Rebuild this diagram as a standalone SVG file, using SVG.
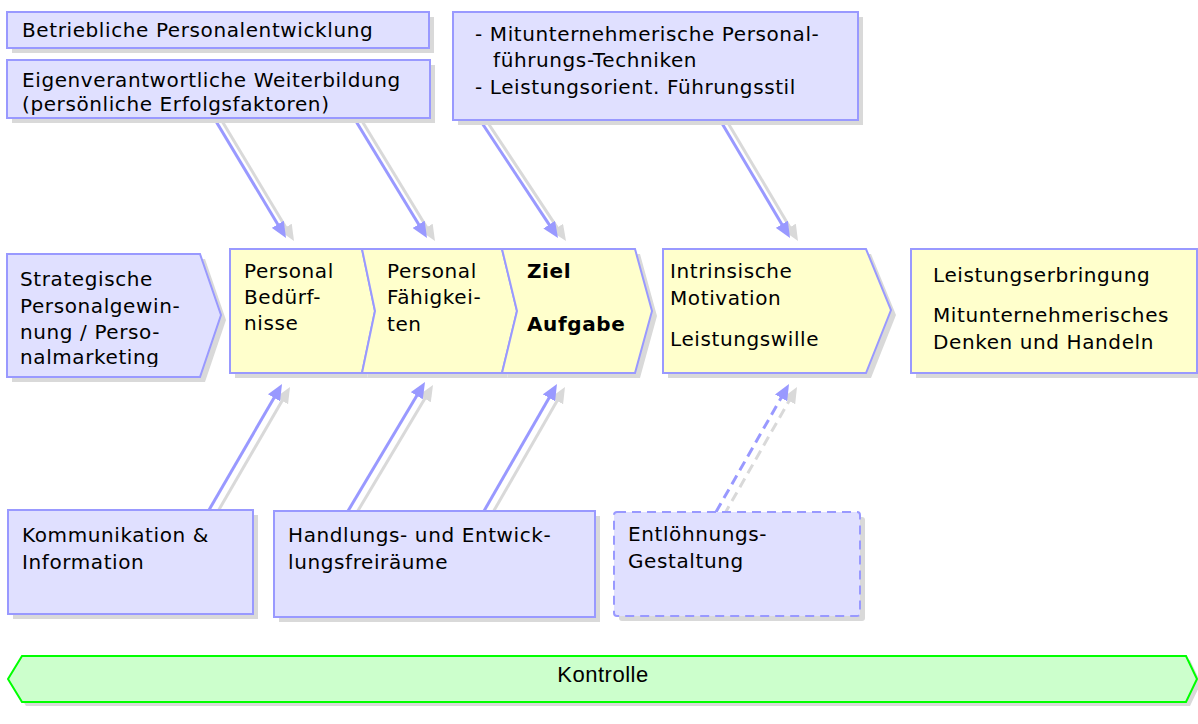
<svg xmlns="http://www.w3.org/2000/svg" width="1198" height="724" viewBox="0 0 1198 724">
<style>
.box{fill:#e0e0ff;stroke:#9999ff;stroke-width:2}
.yel{fill:#ffffcc;stroke:#9999ff;stroke-width:2}
.sh{fill:#d9d9d9;stroke:none}
.t{font-family:"DejaVu Sans",Verdana,sans-serif;font-size:20px;letter-spacing:0.6px;fill:#000}
.b{font-weight:bold}
.con{stroke:#9999ff;stroke-width:3;fill:none}
.csh{stroke:#d9d9d9;stroke-width:3;fill:none}
.dash{stroke-dasharray:10,6}
</style>
<defs>
<marker id="ah" markerUnits="userSpaceOnUse" markerWidth="18" markerHeight="14" refX="6" refY="7" orient="auto"><path d="M0,0 L16,7 L0,14 z" fill="#9999ff"/></marker>
<marker id="ahs" markerUnits="userSpaceOnUse" markerWidth="18" markerHeight="14" refX="6" refY="7" orient="auto"><path d="M0,0 L16,7 L0,14 z" fill="#d9d9d9"/></marker>
<clipPath id="clipS"><rect x="0" y="240" width="240" height="127"/></clipPath>
</defs>

<g id="connectors">
<g transform="translate(8,3)">
<line class="csh" x1="214" y1="118" x2="280.85" y2="229.42" marker-end="url(#ahs)"/>
<line class="csh" x1="354" y1="118" x2="421.8" y2="229.46" marker-end="url(#ahs)"/>
<line class="csh" x1="480" y1="120" x2="552.5" y2="229.66" marker-end="url(#ahs)"/>
<line class="csh" x1="720" y1="120" x2="784.9" y2="229.4" marker-end="url(#ahs)"/>
<line class="csh" x1="209" y1="510" x2="277" y2="392.65" marker-end="url(#ahs)"/>
<line class="csh" x1="348" y1="511" x2="419.87" y2="390.59" marker-end="url(#ahs)"/>
<line class="csh" x1="484" y1="511" x2="552" y2="392.67" marker-end="url(#ahs)"/>
<line class="csh dash" x1="716" y1="512" x2="784.05" y2="392.69" marker-end="url(#ahs)"/>
</g>
<line class="con" x1="214" y1="118" x2="280.85" y2="229.42" marker-end="url(#ah)"/>
<line class="con" x1="354" y1="118" x2="421.8" y2="229.46" marker-end="url(#ah)"/>
<line class="con" x1="480" y1="120" x2="552.5" y2="229.66" marker-end="url(#ah)"/>
<line class="con" x1="720" y1="120" x2="784.9" y2="229.4" marker-end="url(#ah)"/>
<line class="con" x1="209" y1="510" x2="277" y2="392.65" marker-end="url(#ah)"/>
<line class="con" x1="348" y1="511" x2="419.87" y2="390.59" marker-end="url(#ah)"/>
<line class="con" x1="484" y1="511" x2="552" y2="392.67" marker-end="url(#ah)"/>
<line class="con dash" x1="716" y1="512" x2="784.05" y2="392.69" marker-end="url(#ah)"/>
</g>

<g id="n-betrieblich">
<rect class="sh" x="12" y="17" width="422" height="36"/>
<rect class="box" x="7" y="12" width="422" height="36"/>
<text class="t" x="22" y="37">Betriebliche Personalentwicklung</text>
</g>

<g id="n-eigenverantwortlich">
<rect class="sh" x="12" y="65" width="423" height="58"/>
<rect class="box" x="7" y="60" width="423" height="58"/>
<text class="t" x="22" y="87">Eigenverantwortliche Weiterbildung</text>
<text class="t" x="22" y="111">(persönliche Erfolgsfaktoren)</text>
</g>

<g id="n-fuehrung">
<rect class="sh" x="458" y="17" width="405" height="108"/>
<rect class="box" x="453" y="12" width="405" height="108"/>
<text class="t" x="475" y="41">- Mitunternehmerische Personal-</text>
<text class="t" x="493" y="67">führungs-Techniken</text>
<text class="t" x="475" y="94">- Leistungsorient. Führungsstil</text>
</g>

<g id="n-strategisch">
<polygon class="sh" points="12,259 205,259 226,320 205,382 12,382"/>
<polygon class="box" points="7,254 200,254 221,315 200,377 7,377"/>
<g clip-path="url(#clipS)">
<text class="t" x="20" y="286">Strategische</text>
<text class="t" x="20" y="313">Personalgewin-</text>
<text class="t" x="20" y="339">nung / Perso-</text>
<text class="t" x="20" y="364">nalmarketing</text>
</g>
</g>

<g id="n-shadows-chain">
<polygon class="sh" points="235,254 367,254 380,316 367,378 235,378"/>
<polygon class="sh" points="367,254 507,254 522,316 507,378 367,378 380,316"/>
<polygon class="sh" points="507,254 640,254 657,316 640,378 507,378 522,316"/>
</g>

<g id="n-beduerfnisse">
<polygon class="yel" points="230,249 362,249 375,311 362,373 230,373"/>
<text class="t" x="244" y="278">Personal</text>
<text class="t" x="244" y="304">Bedürf-</text>
<text class="t" x="244" y="330">nisse</text>
</g>

<g id="n-faehigkeiten">
<polygon class="yel" points="362,249 502,249 517,311 502,373 362,373 375,311"/>
<text class="t" x="387" y="278">Personal</text>
<text class="t" x="387" y="304">Fähigkei-</text>
<text class="t" x="387" y="331">ten</text>
</g>

<g id="n-ziel">
<polygon class="yel" points="502,249 635,249 652,311 635,373 502,373 517,311"/>
<text class="t b" x="527" y="278">Ziel</text>
<text class="t b" x="527" y="331">Aufgabe</text>
</g>

<g id="n-motivation">
<polygon class="sh" points="668,254 871,254 896,315 871,378 668,378"/>
<polygon class="yel" points="663,249 866,249 891,310 866,373 663,373"/>
<text class="t" x="670" y="278">Intrinsische</text>
<text class="t" x="670" y="305">Motivation</text>
<text class="t" x="670" y="346">Leistungswille</text>
</g>

<g id="n-leistung">
<rect class="sh" x="916" y="254" width="286" height="124"/>
<rect class="yel" x="911" y="249" width="286" height="124"/>
<text class="t" x="933" y="282">Leistungserbringung</text>
<text class="t" x="933" y="322">Mitunternehmerisches</text>
<text class="t" x="933" y="349">Denken und Handeln</text>
</g>

<g id="n-kommunikation">
<rect class="sh" x="13" y="515" width="245" height="104"/>
<rect class="box" x="8" y="510" width="245" height="104"/>
<text class="t" x="22" y="542">Kommunikation &amp;</text>
<text class="t" x="22" y="569">Information</text>
</g>

<g id="n-handlung">
<rect class="sh" x="279" y="516" width="321" height="106"/>
<rect class="box" x="274" y="511" width="321" height="106"/>
<text class="t" x="288" y="542">Handlungs- und Entwick-</text>
<text class="t" x="288" y="569">lungsfreiräume</text>
</g>

<g id="n-entloehnung">
<rect class="sh" x="619" y="517" width="246" height="104" rx="3"/>
<rect class="box dash" x="614" y="512" width="246" height="104" rx="3" style="stroke-dasharray:9,6"/>
<text class="t" x="628" y="541">Entlöhnungs-</text>
<text class="t" x="628" y="568">Gestaltung</text>
</g>

<g id="n-kontrolle">
<polygon class="sh" points="26,660 1190,660 1201,683 1190,706 26,706 12,683"/>
<polygon points="22,656 1186,656 1197,679 1186,702 22,702 8,679" fill="#ccffcc" stroke="#00ff00" stroke-width="2"/>
<text x="603" y="682" text-anchor="middle" font-family="Liberation Sans, Arial, sans-serif" font-size="22" letter-spacing="0.5" fill="#000">Kontrolle</text>
</g>
</svg>
